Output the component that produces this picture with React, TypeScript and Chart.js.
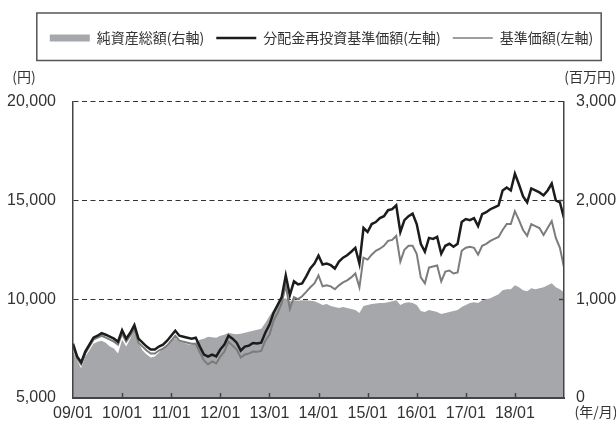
import React, { useEffect, useRef } from 'react';
import { Chart, registerables, layouts } from 'chart.js';

Chart.register(...registerables);

// ---- data (monthly, 2009/01 .. 2019/01) ----
const xTickLabels = ['09/01', '10/01', '11/01', '12/01', '13/01', '14/01', '15/01', '16/01', '17/01', '18/01'];

const seriesNames = ['純資産総額(右軸)', '分配金再投資基準価額(左軸)', '基準価額(左軸)'];

// 分配金再投資基準価額 (円, left axis)
const navReinvested = [
  7750, 7100, 6800, 7350, 7700, 8050, 8150, 8280, 8200, 8100, 8000, 7850,
  8430, 8000, 8300, 8690, 8000, 7800, 7600, 7450, 7450, 7600, 7700, 7900,
  8150, 8400, 8150, 8100, 8050, 8000, 8050, 7600, 7200, 7100, 7200, 7100,
  7450, 7700, 8150, 8000, 7800, 7400, 7600, 7650, 7780, 7760, 7800, 8300,
  8700, 9300, 9700, 10100, 11200, 10200, 10900, 10750, 10800, 11150, 11550, 11800,
  12200, 11750, 11800, 11720, 11550, 11900, 12100, 12220, 12400, 12600, 11800, 13600,
  13400, 13800, 13900, 14100, 14200, 14500, 14550, 14750, 13400, 14000, 14200, 14330,
  13800, 12800, 12400, 13100, 13050, 13150, 12300, 12700, 12800, 12650, 12800, 13900,
  14050, 14000, 14100, 13700, 14300, 14400, 14550, 14650, 14750, 15500, 15650, 15500,
  16350, 15800, 15200, 14900, 15600, 15500, 15400, 15250, 15500, 15850, 15000, 14900,
  14100,
];

// 基準価額 (円, left axis)
const nav = [
  7650, 7000, 6700, 7250, 7600, 7950, 8050, 8150, 8050, 7950, 7850, 7700,
  8250, 7850, 8150, 8500, 7800, 7600, 7400, 7250, 7250, 7400, 7500, 7650,
  7900, 8150, 7900, 7850, 7800, 7750, 7750, 7300, 6900, 6700, 6850, 6750,
  7100, 7350, 7850, 7650, 7450, 7050, 7200, 7250, 7350, 7340, 7380, 7900,
  8200, 8900, 9300, 9800, 10700, 9500, 10100, 10000, 10150, 10370, 10600, 10800,
  11200, 10650, 10700, 10650, 10500, 10700, 10850, 10950, 11100, 11300, 10600, 12100,
  12000, 12250, 12450, 12550, 12700, 12950, 13000, 13200, 11900, 12500, 12700, 12700,
  12300, 11100, 10800, 11600, 11650, 11700, 10900, 11400, 11450, 11300, 11350, 12450,
  12600, 12650, 12600, 12250, 12700, 12800, 12950, 13050, 13150, 13500, 13800, 13800,
  14450, 14000, 13500, 13200, 13800, 13700, 13600, 13250, 13600, 13950, 13100, 12600,
  11600,
];

// 純資産総額 (百万円, right axis)
const netAssets = [
  470, 380, 300, 420, 480, 550, 570, 580, 560, 520, 500, 450,
  590, 520, 600, 690, 560, 480, 440, 410, 420, 460, 500, 540,
  580, 610, 570, 560, 545, 540, 560, 590, 600, 620, 615, 610,
  630, 640, 660, 650, 645, 650, 660, 670, 680, 690, 700, 760,
  830, 890, 940, 1000, 1010, 980, 990, 985, 990, 990, 985, 980,
  960, 940, 950, 930, 920, 910, 920, 910, 900, 890, 860, 930,
  940, 950, 955, 960, 960, 970, 980, 990, 940, 960, 970, 960,
  940, 880, 870, 890, 880, 870, 850, 860, 870, 880, 890, 920,
  940, 960, 970, 960, 990, 1000, 1010, 1030, 1050, 1090, 1100, 1100,
  1140, 1120, 1090, 1080, 1110, 1100, 1110, 1120, 1140, 1160, 1120, 1100,
  1070,
];

const leftUnit = '(円)';
const rightUnit = '(百万円)';
const xUnit = '(年/月)';

// ---- styles ----
const AREA_COLOR = '#a6a7aa';
const BLACK_COLOR = '#1c1c1c';
const GRAY_COLOR = '#7c7c7c';
const TEXT_COLOR = '#333333';
const AXIS_COLOR = '#444444';
const NUM_FONT = "'Liberation Sans Narrow', 'Liberation Sans', sans-serif";
const JP_FONT = "'Noto Sans CJK JP', sans-serif";

const spacerPlugin = {
  id: 'spacer',
  beforeInit(chart: any) {
    const box: any = {
      position: 'top',
      weight: 500,
      fullSize: true,
      options: {},
      left: 0, top: 0, right: 0, bottom: 0, width: 0, height: 0,
      isHorizontal() { return true; },
      update(maxWidth: number) {
        this.width = maxWidth;
        this.height = 46.5;
      },
      draw() {},
    };
    layouts.addBox(chart, box);
  },
};

const legendBoxPlugin = {
  id: 'legendBox',
  afterDraw(chart: any) {
    const lg = chart.legend;
    if (!lg || !lg.legendHitBoxes || !lg.legendHitBoxes.length) return;
    const hb = lg.legendHitBoxes;
    const first = hb[0];
    const last = hb[hb.length - 1];
    const l = first.left - 13;
    const r = last.left + last.width + 8;
    const t = first.top - 18;
    const b = first.top + 29.5;
    const ctx = chart.ctx;
    ctx.save();
    ctx.strokeStyle = '#555';
    ctx.lineWidth = 1.5;
    ctx.strokeRect(l, t, r - l, b - t);
    ctx.restore();
  },
};

const decorPlugin = {
  id: 'decor',
  afterDraw(chart: any) {
    const { ctx, chartArea } = chart;
    const x = chart.scales.x;
    const y1 = chart.scales.y1;
    ctx.save();
    ctx.strokeStyle = AXIS_COLOR;
    ctx.lineWidth = 1.5;
    x.ticks.forEach((t: any) => {
      if (t.value <= x.min || t.value >= x.max) return;
      const px = Math.round(x.getPixelForValue(t.value)) + 0.5;
      ctx.beginPath();
      ctx.moveTo(px, chartArea.bottom - 1);
      ctx.lineTo(px, chartArea.bottom - 5);
      ctx.stroke();
    });
    y1.ticks.forEach((t: any) => {
      if (t.value <= y1.min || t.value >= y1.max) return;
      const py = Math.round(y1.getPixelForValue(t.value)) + 0.5;
      ctx.beginPath();
      ctx.moveTo(chartArea.right, py);
      ctx.lineTo(chartArea.right - 5, py);
      ctx.stroke();
    });
    ctx.fillStyle = TEXT_COLOR;
    ctx.font = `14px ${JP_FONT}`;
    ctx.textBaseline = 'middle';
    ctx.textAlign = 'center';
    ctx.fillText(leftUnit, chartArea.left - 49, chartArea.top - 25);
    ctx.fillText(rightUnit, chartArea.right + 26, chartArea.top - 25);
    ctx.fillText(xUnit, chartArea.right + 32, chartArea.bottom + 14);
    ctx.restore();
  },
};

export default function App() {
  const canvasRef = useRef<HTMLCanvasElement | null>(null);

  useEffect(() => {
    document.body.style.margin = '0';
    const canvas = canvasRef.current;
    if (!canvas) return;
    const toPts = (arr: number[]) => arr.map((v, i) => ({ x: i, y: v }));
    const chart = new Chart(canvas, {
      type: 'line',
      data: {
        datasets: [
          {
            label: seriesNames[1],
            data: toPts(navReinvested),
            borderColor: BLACK_COLOR,
            backgroundColor: BLACK_COLOR,
            borderWidth: 2.5,
            pointRadius: 0,
            tension: 0,
            yAxisID: 'y',
          },
          {
            label: seriesNames[2],
            data: toPts(nav),
            borderColor: GRAY_COLOR,
            backgroundColor: GRAY_COLOR,
            borderWidth: 2,
            pointRadius: 0,
            tension: 0,
            yAxisID: 'y',
          },
          {
            label: seriesNames[0],
            data: toPts(netAssets),
            borderColor: AREA_COLOR,
            backgroundColor: AREA_COLOR,
            borderWidth: 0,
            pointRadius: 0,
            tension: 0,
            fill: 'origin',
            yAxisID: 'y1',
          },
        ],
      } as any,
      options: {
        responsive: false,
        animation: false,
        events: [],
        layout: { padding: { top: 19, left: 0, right: -27, bottom: 0 } },
        plugins: {
          tooltip: { enabled: false },
          legend: {
            display: true,
            position: 'top',
            align: 'center',
            labels: {
              usePointStyle: true,
              pointStyleWidth: 40,
              padding: 12,
              color: TEXT_COLOR,
              font: { family: JP_FONT, size: 14 },
              generateLabels: () => [
                { text: seriesNames[0], strokeStyle: AREA_COLOR, fillStyle: AREA_COLOR, lineWidth: 7, pointStyle: 'line', datasetIndex: 2, hidden: false, fontColor: TEXT_COLOR },
                { text: seriesNames[1], strokeStyle: BLACK_COLOR, fillStyle: BLACK_COLOR, lineWidth: 2.5, pointStyle: 'line', datasetIndex: 0, hidden: false, fontColor: TEXT_COLOR },
                { text: seriesNames[2], strokeStyle: GRAY_COLOR, fillStyle: GRAY_COLOR, lineWidth: 1.5, pointStyle: 'line', datasetIndex: 1, hidden: false, fontColor: TEXT_COLOR },
              ],
            },
          },
        },
        scales: {
          x: {
            type: 'linear',
            min: 0,
            max: 120,
            grid: { display: false, drawTicks: false },
            border: { display: true, color: AXIS_COLOR, width: 2, z: 1 },
            ticks: {
              stepSize: 12,
              autoSkip: false,
              maxRotation: 0,
              padding: 6,
              color: TEXT_COLOR,
              font: { family: NUM_FONT, size: 16 },
              callback: (v: any) => xTickLabels[Math.round(Number(v) / 12)] ?? '',
            },
            afterFit: (s: any) => { s.height = 34; },
          },
          y: {
            position: 'left',
            min: 5000,
            max: 20000,
            grid: {
              drawTicks: false,
              lineWidth: 1,
              color: (c: any) => (c.tick && c.tick.value === 5000 ? 'rgba(0,0,0,0)' : '#333'),
            },
            border: { display: true, color: AXIS_COLOR, width: 1.5, dash: [5, 3.5], z: 1 },
            ticks: {
              stepSize: 5000,
              padding: 17,
              color: TEXT_COLOR,
              font: { family: NUM_FONT, size: 16 },
              callback: (v: any) => Number(v).toLocaleString('en-US'),
            },
            afterFit: (s: any) => { s.width = 73; },
          },
          y1: {
            position: 'right',
            min: 0,
            max: 3000,
            grid: { display: false, drawTicks: false },
            border: { display: true, color: AXIS_COLOR, width: 1.5, z: 1 },
            ticks: {
              stepSize: 1000,
              padding: 12,
              color: TEXT_COLOR,
              font: { family: NUM_FONT, size: 16 },
              callback: (v: any) => Number(v).toLocaleString('en-US'),
            },
            afterFit: (s: any) => { s.width = 79; },
          },
        },
      } as any,
      plugins: [spacerPlugin, legendBoxPlugin, decorPlugin],
    });
    return () => chart.destroy();
  }, []);

  return (
    <div style={{ width: 616, height: 432, position: 'relative' }}>
      <canvas ref={canvasRef} width={616} height={432} style={{ display: 'block' }} />
    </div>
  );
}
